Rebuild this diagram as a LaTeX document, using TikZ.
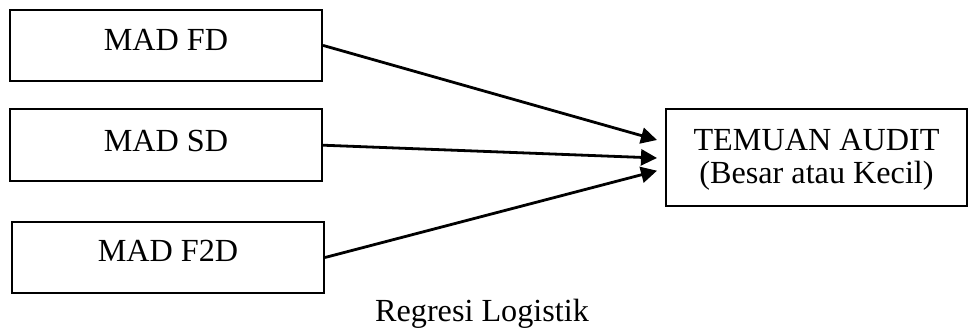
\documentclass[tikz,border=0pt]{standalone}
\usepackage{fontspec}
\setmainfont{Liberation Serif}
\usetikzlibrary{arrows.meta,calc}
\begin{document}
\begin{tikzpicture}[x=0.5pt,y=-0.5pt,
  box/.style={draw=black,line width=1pt,rectangle,inner sep=0pt},
  lbl/.style={anchor=base,inner sep=0pt,font=\fontsize{16.1}{17}\selectfont},
  conn/.style={line width=1.4pt,-{Triangle[length=8pt,width=8pt]}}]
\useasboundingbox (0,0) rectangle (968,332);
\node[box,minimum width=156pt,minimum height=35.7pt] (b1) at (166,45.4) {};
\node[box,minimum width=156pt,minimum height=35.8pt] (b2) at (166,145.2) {};
\node[box,minimum width=156pt,minimum height=35.8pt] (b3) at (168,257.5) {};
\node[box,minimum width=150.5pt,minimum height=48.3pt] (b4) at (816.5,157.7) {};
\node[lbl] (t1) at (166,50) {MAD FD};
\node[lbl] (t2) at (166,151) {MAD SD};
\node[lbl] (t3) at (168,261.7) {MAD F2D};
\node[lbl] (t4a) at (816.5,150) {TEMUAN AUDIT};
\node[lbl] (t4b) at (816.5,183) {(Besar atau Kecil)};
\node[lbl] (cap) at (482,321.5) {Regresi Logistik};
\coordinate (e1) at ($(b4.west)+(-8,-17.7)$);
\coordinate (e2) at ($(b4.west)+(-8,0.3)$);
\coordinate (e3) at ($(b4.west)+(-8,13)$);
\draw[conn] (b1.east) -- (e1);
\draw[conn] (b2.east) -- (e2);
\draw[conn] (b3.east) -- (e3);
\end{tikzpicture}
\end{document}
